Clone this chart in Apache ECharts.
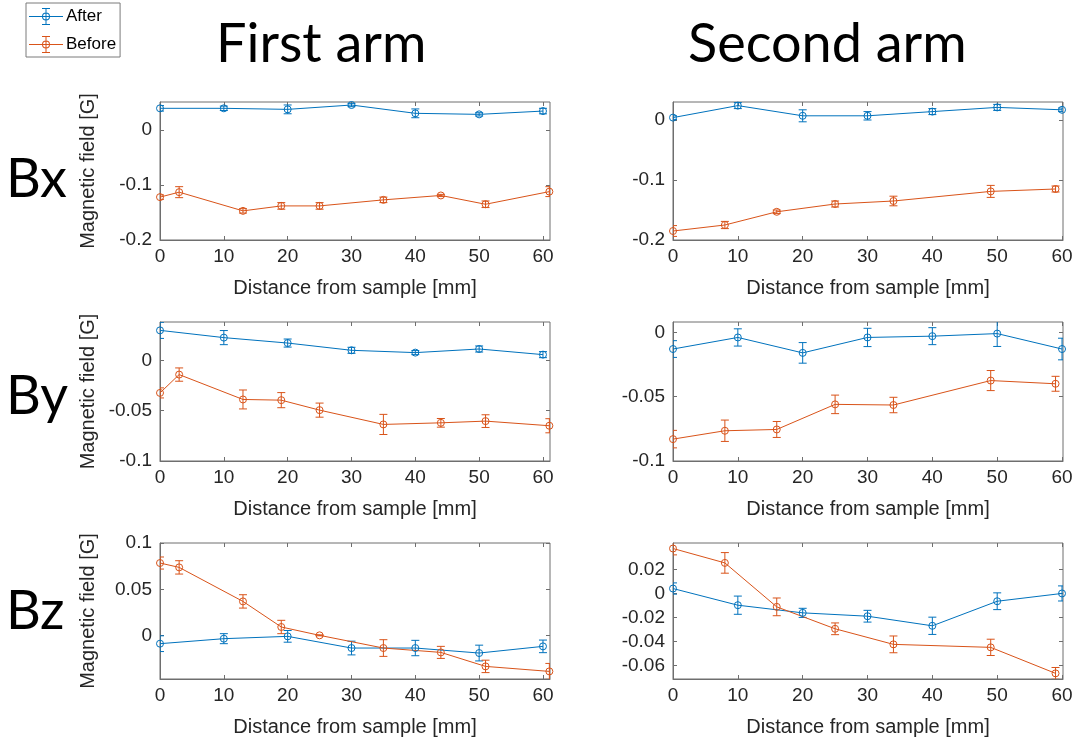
<!DOCTYPE html>
<html>
<head>
<meta charset="utf-8">
<script src="https://cdn.jsdelivr.net/npm/echarts@6/dist/echarts.min.js"></script>
<style>
  html, body { margin: 0; padding: 0; background: #fff; }
  #chart { width: 1078px; height: 745px; }
</style>
</head>
<body>
<div id="chart"></div>
<script>
// Positions along the arm [mm]
const afterX = [0, 10, 20, 30, 40, 50, 60];
const firstBeforeX = [0, 3, 13, 19, 25, 35, 44, 51, 61];
const secondBeforeX = [0, 8, 16, 25, 34, 49, 59];
const xTicks = [0, 10, 20, 30, 40, 50, 60];

// Bx [G]
const bxFirstAfter = [0.0395, 0.0395, 0.0376, 0.0455, 0.0304, 0.0285, 0.0345];
const bxFirstAfterErr = [0.005, 0.004, 0.008, 0.003, 0.008, 0.003, 0.005];
const bxFirstBefore = [-0.122, -0.113, -0.147, -0.138, -0.138, -0.127, -0.119, -0.135, -0.112];
const bxFirstBeforeErr = [0.004, 0.010, 0.004, 0.006, 0.006, 0.005, 0.002, 0.006, 0.009];
const bxSecondAfter = [0.004, 0.024, 0.007, 0.007, 0.014, 0.021, 0.017];
const bxSecondAfterErr = [0.003, 0.005, 0.010, 0.007, 0.005, 0.005, 0.003];
const bxSecondBefore = [-0.185, -0.175, -0.153, -0.140, -0.135, -0.119, -0.115];
const bxSecondBeforeErr = [0.009, 0.006, 0.003, 0.005, 0.008, 0.010, 0.005];

// By [G]
const byFirstAfter = [0.0297, 0.0225, 0.0171, 0.0099, 0.0076, 0.0112, 0.0056];
const byFirstAfterErr = [0.008, 0.007, 0.004, 0.003, 0.002, 0.003, 0.003];
const byFirstBefore = [-0.0324, -0.0142, -0.0389, -0.0396, -0.0495, -0.0637, -0.0621, -0.0604, -0.065];
const byFirstBeforeErr = [0.005, 0.0066, 0.0094, 0.0075, 0.007, 0.010, 0.0043, 0.0063, 0.007];
const bySecondAfter = [-0.013, -0.004, -0.016, -0.004, -0.003, -0.001, -0.013];
const bySecondAfterErr = [0.0065, 0.0067, 0.008, 0.0071, 0.0066, 0.010, 0.0084];
const bySecondBefore = [-0.083, -0.0765, -0.0755, -0.056, -0.0565, -0.0375, -0.040];
const bySecondBeforeErr = [0.0068, 0.0083, 0.0062, 0.0072, 0.006, 0.0078, 0.0058];

// Bz [G]
const bzFirstAfter = [-0.0086, -0.0032, -0.0007, -0.0133, -0.0133, -0.0187, -0.0115];
const bzFirstAfterErr = [0.0085, 0.0054, 0.0063, 0.0074, 0.0083, 0.0085, 0.0068];
const bzFirstBefore = [0.0784, 0.0737, 0.037, 0.0094, 0.0004, -0.0133, -0.018, -0.0331, -0.0385];
const bzFirstBeforeErr = [0.0065, 0.0072, 0.0072, 0.0072, 0.0005, 0.009, 0.0065, 0.0067, 0.0086];
const bzSecondAfter = [0.0043, -0.0096, -0.016, -0.0188, -0.0268, -0.0063, 0.0002];
const bzSecondAfterErr = [0.0047, 0.0076, 0.0038, 0.0049, 0.0072, 0.007, 0.0063];
const bzSecondBefore = [0.0377, 0.0257, -0.011, -0.0293, -0.0423, -0.0448, -0.0665];
const bzSecondBeforeErr = [0.0053, 0.0086, 0.0074, 0.0049, 0.007, 0.0068, 0.0049];

// Y tick values per row
const bxTicks = [-0.2, -0.1, 0];
const byTicks = [-0.1, -0.05, 0];
const bzFirstTicks = [0, 0.05, 0.1];
const bzSecondTicks = [-0.06, -0.04, -0.02, 0, 0.02];

const rowLabels = ['Bx', 'By', 'Bz'];
const columnTitles = ['First arm', 'Second arm'];
const seriesNames = ['After', 'Before'];
const xName = 'Distance from sample [mm]';
const yName = 'Magnetic field [G]';

const BLUE = '#0072BD';
const ORANGE = '#D95319';
const AXIS = '#6e6e6e';
const TEXT = '#262626';
const FONT = '"Liberation Sans", Arial, sans-serif';

// Panel layout: left column / right column, three rows
const colLeft = [160, 673];
const colWidth = 390;
const rowTop = [102, 322, 543];
const rowHeight = [138, 139, 136];

const panels = [
  { row: 0, col: 0, xMax: 61.1, yMin: -0.2, yMax: 0.051, yTicks: bxTicks,
    after: [afterX, bxFirstAfter, bxFirstAfterErr], before: [firstBeforeX, bxFirstBefore, bxFirstBeforeErr] },
  { row: 0, col: 1, xMax: 60.15, yMin: -0.2, yMax: 0.03, yTicks: bxTicks,
    after: [afterX, bxSecondAfter, bxSecondAfterErr], before: [secondBeforeX, bxSecondBefore, bxSecondBeforeErr] },
  { row: 1, col: 0, xMax: 61.1, yMin: -0.1, yMax: 0.038, yTicks: byTicks,
    after: [afterX, byFirstAfter, byFirstAfterErr], before: [firstBeforeX, byFirstBefore, byFirstBeforeErr] },
  { row: 1, col: 1, xMax: 60.15, yMin: -0.1, yMax: 0.008, yTicks: byTicks,
    after: [afterX, bySecondAfter, bySecondAfterErr], before: [secondBeforeX, bySecondBefore, bySecondBeforeErr] },
  { row: 2, col: 0, xMax: 61.1, yMin: -0.0467, yMax: 0.1, yTicks: bzFirstTicks,
    after: [afterX, bzFirstAfter, bzFirstAfterErr], before: [firstBeforeX, bzFirstBefore, bzFirstBeforeErr] },
  { row: 2, col: 1, xMax: 60.15, yMin: -0.0712, yMax: 0.0423, yTicks: bzSecondTicks,
    after: [afterX, bzSecondAfter, bzSecondAfterErr], before: [secondBeforeX, bzSecondBefore, bzSecondBeforeErr] }
];

const grid = [], xAxis = [], yAxis = [], lineSeries = [], barSeries = [];

function tickStyle(values) {
  return { show: true, inside: true, length: 4, customValues: values, lineStyle: { color: AXIS, width: 1 } };
}

function errorBarItem(params, api) {
  const x = api.value(0);
  const lo = api.coord([x, api.value(1)]);
  const hi = api.coord([x, api.value(2)]);
  const w = 4;
  const style = { stroke: api.visual('color'), lineWidth: 1, fill: null };
  return {
    type: 'group',
    children: [
      { type: 'line', shape: { x1: hi[0], y1: hi[1], x2: lo[0], y2: lo[1] }, style },
      { type: 'line', shape: { x1: hi[0] - w, y1: hi[1], x2: hi[0] + w, y2: hi[1] }, style },
      { type: 'line', shape: { x1: lo[0] - w, y1: lo[1], x2: lo[0] + w, y2: lo[1] }, style }
    ]
  };
}

panels.forEach((p, i) => {
  grid.push({
    left: colLeft[p.col], top: rowTop[p.row], width: colWidth, height: rowHeight[p.row],
    show: true, borderColor: AXIS, borderWidth: 1, backgroundColor: 'transparent'
  });
  // bottom and left axes carry labels; top and right copies only carry ticks
  xAxis.push({
    type: 'value', gridIndex: i, position: 'bottom', min: 0, max: p.xMax,
    name: xName, nameLocation: 'middle', nameGap: 38,
    nameTextStyle: { fontSize: 20, color: TEXT, fontFamily: FONT },
    axisLine: { show: true, onZero: false, lineStyle: { color: AXIS } },
    axisTick: tickStyle(xTicks),
    axisLabel: { customValues: xTicks, color: TEXT, fontSize: 19, fontFamily: FONT, margin: 7 },
    splitLine: { show: false }
  });
  xAxis.push({
    type: 'value', gridIndex: i, position: 'top', min: 0, max: p.xMax,
    axisLine: { show: false, onZero: false }, axisTick: tickStyle(xTicks),
    axisLabel: { show: false }, splitLine: { show: false }
  });
  yAxis.push({
    type: 'value', gridIndex: i, position: 'left', min: p.yMin, max: p.yMax,
    name: p.col === 0 ? yName : '', nameLocation: 'middle', nameGap: 62,
    nameTextStyle: { fontSize: 20, color: TEXT, fontFamily: FONT },
    axisLine: { show: true, onZero: false, lineStyle: { color: AXIS } },
    axisTick: tickStyle(p.yTicks),
    axisLabel: { customValues: p.yTicks, color: TEXT, fontSize: 19, fontFamily: FONT, margin: 8,
      formatter: v => String(v) },
    splitLine: { show: false }
  });
  yAxis.push({
    type: 'value', gridIndex: i, position: 'right', min: p.yMin, max: p.yMax,
    axisLine: { show: false, onZero: false }, axisTick: tickStyle(p.yTicks),
    axisLabel: { show: false }, splitLine: { show: false }
  });

  [['After', BLUE, p.after], ['Before', ORANGE, p.before]].forEach(([name, color, d]) => {
    const [xs, ys, es] = d;
    lineSeries.push({
      type: 'line', name, xAxisIndex: 2 * i, yAxisIndex: 2 * i,
      data: xs.map((x, k) => [x, ys[k]]),
      symbol: 'circle', symbolSize: 7, showSymbol: true,
      color,
      lineStyle: { color, width: 1 },
      itemStyle: { color: 'rgba(0,0,0,0)', borderColor: color, borderWidth: 1 },
      emphasis: { disabled: true }, animation: false, clip: true, z: 3
    });
    barSeries.push({
      type: 'custom', name: name + ' error', xAxisIndex: 2 * i, yAxisIndex: 2 * i,
      data: xs.map((x, k) => [x, ys[k] - es[k], ys[k] + es[k]]),
      encode: { x: 0, y: [1, 2] },
      color, itemStyle: { color },
      renderItem: errorBarItem, clip: true, animation: false, z: 3,
      emphasis: { disabled: true }
    });
  });
});

// Legend glyph: line with hollow marker and capped error bar
const legendIcon = 'path://' +
  'M0 10.5L34 10.5L34 11.5L0 11.5Z' +
  'M16.5 3L17.5 3L17.5 19L16.5 19Z' +
  'M13 2.5L21 2.5L21 3.5L13 3.5Z' +
  'M13 18.5L21 18.5L21 19.5L13 19.5Z' +
  'M21 11A4 4 0 0 1 13 11A4 4 0 0 1 21 11Z' +
  'M20 11A3 3 0 0 0 14 11A3 3 0 0 0 20 11Z';

const titles = [
  { text: columnTitles[0], left: 216, top: 18 },
  { text: columnTitles[1], left: 688, top: 18 },
  { text: rowLabels[0], left: 6, top: 153 },
  { text: rowLabels[1], left: 6, top: 370 },
  { text: rowLabels[2], left: 6, top: 585 }
].map(t => Object.assign(t, {
  padding: 0,
  textStyle: { fontSize: 54, fontWeight: 'normal', color: '#000', fontFamily: 'Lato, "Open Sans", sans-serif' }
}));

const chart = echarts.init(document.getElementById('chart'), null, { renderer: 'canvas' });
chart.setOption({
  animation: false,
  backgroundColor: '#fff',
  title: titles,
  legend: {
    orient: 'vertical', left: 26, top: 3,
    backgroundColor: '#fff', borderColor: '#7a7a7a', borderWidth: 1,
    padding: [5, 4, 4, 3], itemGap: 11, itemWidth: 34, itemHeight: 22,
    textStyle: { fontSize: 17, color: '#000', fontFamily: FONT, padding: [0, 0, 0, -2] },
    data: seriesNames.map((n, k) => ({
      name: n, icon: legendIcon,
      itemStyle: { color: k === 0 ? BLUE : ORANGE, borderWidth: 0 }
    })),
    selectedMode: false
  },
  grid, xAxis, yAxis,
  series: lineSeries.concat(barSeries)
});
</script>
</body>
</html>
